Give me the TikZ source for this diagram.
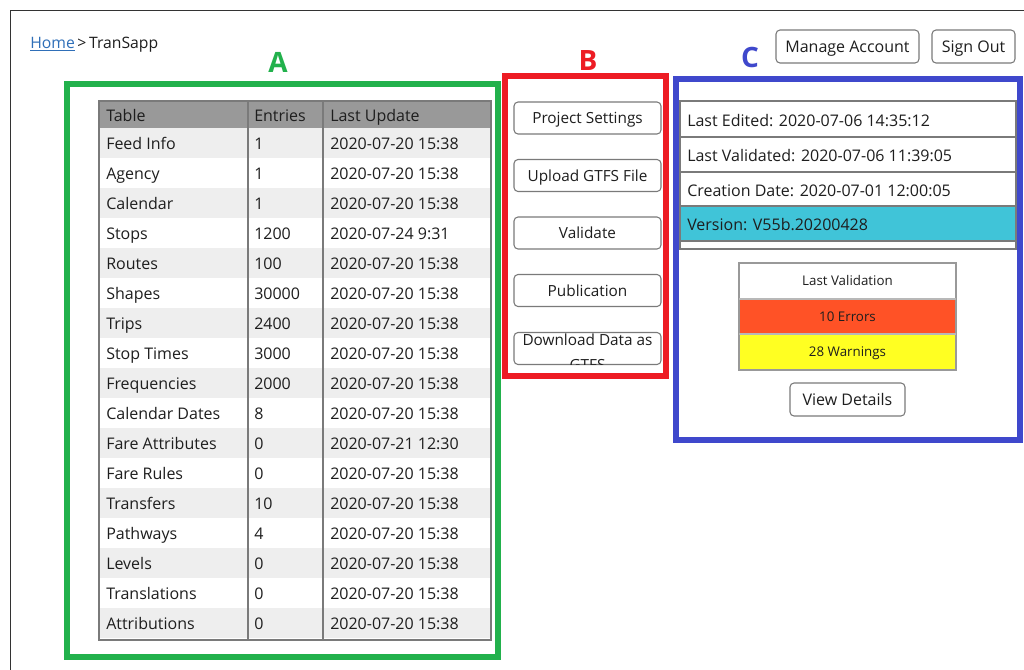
\documentclass[tikz,border=0pt]{standalone}
\usepackage{fontspec}
\setmainfont{Open Sans}
\definecolor{boxgreen}{HTML}{22B14C}
\definecolor{boxred}{HTML}{ED1C24}
\definecolor{boxblue}{HTML}{3F48CC}
\definecolor{homeblue}{HTML}{2F6FB8}
\definecolor{hdrgray}{HTML}{999999}
\definecolor{rowgray}{HTML}{EEEEEE}
\definecolor{tline}{HTML}{7A7A7A}
\definecolor{verfill}{HTML}{40C4D8}
\definecolor{errfill}{HTML}{FF5226}
\definecolor{warnfill}{HTML}{FFFF22}
\definecolor{txt}{HTML}{1E1E1E}
\tikzset{
  framebox/.style={line width=4.5pt},
  bigletter/.style={font=\fontsize{21}{24}\selectfont\bfseries},
  btn/.style={draw=tline, line width=0.8pt, rounded corners=3pt, fill=white, inner sep=0pt, text=txt, font=\fontsize{11.5}{14}\selectfont, text height=8.3pt, text depth=0pt},
  cell/.style={anchor=base west, inner sep=0pt, text=txt, font=\fontsize{12}{14}\selectfont},
  tablerule/.style={draw=tline, line width=0.8pt},
  info/.style={anchor=base west, inner sep=0pt, text=txt, font=\fontsize{12}{14}\selectfont},
  valtext/.style={inner sep=0pt, text=txt, font=\fontsize{10}{12}\selectfont, text height=7.2pt, text depth=0pt}
}
\begin{document}
\begin{tikzpicture}[x=0.75pt,y=-0.75pt]
\useasboundingbox (0,0) rectangle (1024,669);
\clip (0,0) rectangle (1024,669);
\fill[white] (0,0) rectangle (1024,669);
\draw[draw=black!80, line width=0.8pt] (10.5,10.5) rectangle (1100,720);

% breadcrumb
\node[anchor=base west, inner sep=0pt, text=txt, font=\fontsize{11.8}{14}\selectfont] (crumb) at (30,48) {\textcolor{homeblue}{\underline{Home}}\,>\,TranSapp};

% section letters
\node[bigletter, text=boxgreen] (la) at (278,62) {A};
\node[bigletter, text=boxred] (lb) at (588,60) {B};
\node[bigletter, text=boxblue] (lc) at (750,57) {C};

% frames
\draw[framebox, boxgreen] (66.5,83.5) rectangle (497.5,656.5);
\draw[framebox, boxred] (505,76) rectangle (666,376);
\draw[framebox, boxblue] (675.5,78.5) rectangle (1020,440);

% ---------- table A ----------
\fill[hdrgray] (99,101) rectangle (491,128);
\foreach \i in {1,3,...,17}{
  \fill[rowgray] (99,{128+30*(\i-1)}) rectangle (491,{158+30*(\i-1)});
}
\draw[tablerule] (248,101) -- (248,640);
\draw[tablerule] (323,101) -- (323,640);
\draw[tablerule] (99,101) rectangle (491,640);
\node[cell] (ha) at (106,121.5) {Table};
\node[cell] (hb) at (254,121.5) {Entries};
\node[cell] (hc) at (330,121.5) {Last Update};
\foreach \n/\e/\d [count=\i] in {
  Feed Info/1/2020-07-20 15:38,
  Agency/1/2020-07-20 15:38,
  Calendar/1/2020-07-20 15:38,
  Stops/1200/2020-07-24 9:31,
  Routes/100/2020-07-20 15:38,
  Shapes/30000/2020-07-20 15:38,
  Trips/2400/2020-07-20 15:38,
  Stop Times/3000/2020-07-20 15:38,
  Frequencies/2000/2020-07-20 15:38,
  Calendar Dates/8/2020-07-20 15:38,
  Fare Attributes/0/2020-07-21 12:30,
  Fare Rules/0/2020-07-20 15:38,
  Transfers/10/2020-07-20 15:38,
  Pathways/4/2020-07-20 15:38,
  Levels/0/2020-07-20 15:38,
  Translations/0/2020-07-20 15:38,
  Attributions/0/2020-07-20 15:38}{
  \node[cell] (ca\i) at (106,{149.5+30*(\i-1)}) {\n};
  \node[cell] (cb\i) at (254,{149.5+30*(\i-1)}) {\e};
  \node[cell] (cc\i) at (330,{149.5+30*(\i-1)}) {\d};
}

% ---------- buttons B ----------
\node[btn, minimum width=110.25pt, minimum height=24pt] (ps) at (587.5,118) {Project Settings};
\node[btn, minimum width=110.25pt, minimum height=24pt] (up) at (587.5,175.5) {Upload GTFS File};
\node[btn, minimum width=110.25pt, minimum height=24pt] (va) at (587.5,233) {Validate};
\node[btn, minimum width=110.25pt, minimum height=24pt] (pu) at (587.5,290.5) {Publication};
\node[btn, minimum width=110.25pt, minimum height=24pt] (dl) at (587.5,348.5) {};
\begin{scope}
  \clip (514,333) rectangle (661,364.5);
  \node[anchor=base, inner sep=0pt, text=txt, font=\fontsize{11.5}{14}\selectfont] (dl1) at (587.5,345) {Download Data as};
  \node[anchor=base, inner sep=0pt, text=txt, font=\fontsize{11.5}{14}\selectfont] (dl2) at (587.5,370) {GTFS};
\end{scope}

% ---------- top buttons ----------
\node[btn, minimum width=107.25pt, minimum height=24.75pt, font=\fontsize{12}{14}\selectfont, text height=8.6pt] (ma) at (847.5,46.5) {Manage Account};
\node[btn, minimum width=62.25pt, minimum height=24.75pt, font=\fontsize{12}{14}\selectfont, text height=8.6pt] (so) at (973.5,46.5) {Sign Out};

% ---------- info list C ----------
\fill[verfill] (680,206) rectangle (1016,241);
\draw[tablerule] (680,101) rectangle (1016,249);
\draw[tablerule] (680,137) -- (1016,137);
\draw[tablerule] (680,172) -- (1016,172);
\draw[tablerule] (680,206) -- (1016,206);
\draw[tablerule] (680,241) -- (1016,241);
\node[info] (ie) at (687,126) {Last Edited: 2020-07-06 14:35:12};
\node[info] (iv) at (687,161.5) {Last Validated: 2020-07-06 11:39:05};
\node[info] (ic) at (687,196) {Creation Date: 2020-07-01 12:00:05};
\node[info] (iver) at (687,230.5) {Version: V55b.20200428};

% ---------- validation ----------
\fill[white] (739,263) rectangle (956,299);
\fill[errfill] (739,299) rectangle (956,334);
\fill[warnfill] (739,334) rectangle (956,370);
\draw[draw=hdrgray, line width=0.8pt] (739,263) rectangle (956,370);
\draw[draw=hdrgray!70, line width=0.8pt] (739,299) -- (956,299);
\draw[draw=hdrgray!70, line width=0.8pt] (739,334) -- (956,334);
\node[valtext] (vl) at (847.5,281) {Last Validation};
\node[valtext] (ve) at (847.5,316.5) {10 Errors};
\node[valtext] (vw) at (847.5,352) {28 Warnings};
\node[btn, minimum width=86.25pt, minimum height=24.75pt, font=\fontsize{12}{14}\selectfont, text height=8.6pt] (vd) at (847.5,399.5) {View Details};
\end{tikzpicture}
\end{document}
